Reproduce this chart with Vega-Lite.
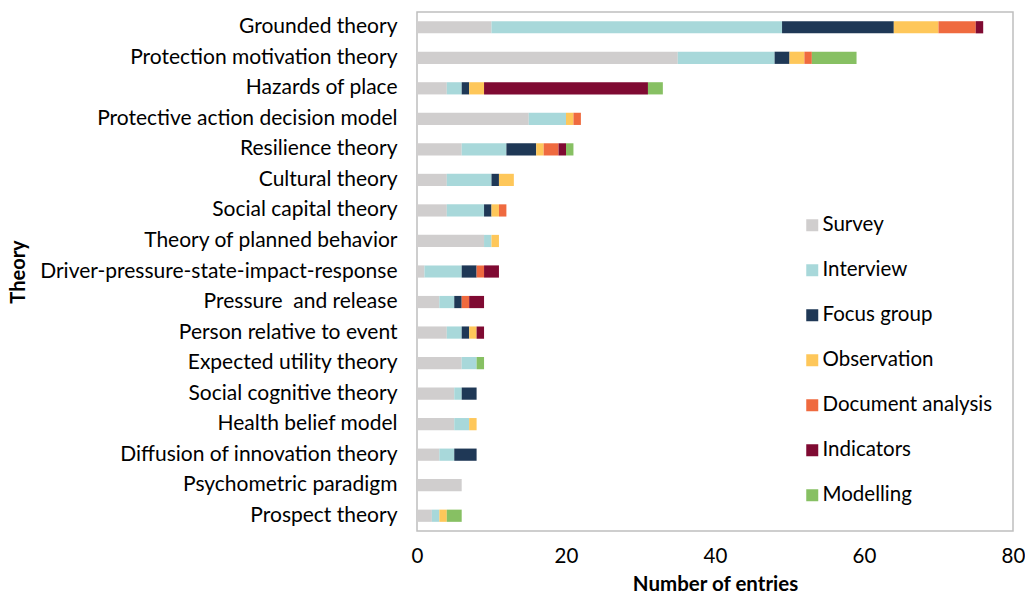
{
  "$schema": "https://vega.github.io/schema/vega-lite/v6.json",
  "autosize": {"type": "none"},
  "width": 596,
  "height": 519,
  "padding": {"left": 417, "top": 12, "right": 12, "bottom": 63},
  "background": "white",
  "config": {
    "font": "Lato",
    "view": {"stroke": "#BFBFBF", "strokeWidth": 1.5},
    "axis": {"labelFont": "Lato", "titleFont": "Lato", "labelColor": "#000", "titleColor": "#000", "domain": false, "ticks": false, "grid": false}
  },
  "data": {"values": [
    {"theory": "Grounded theory", "method": "Survey", "n": 10},
    {"theory": "Grounded theory", "method": "Interview", "n": 39},
    {"theory": "Grounded theory", "method": "Focus group", "n": 15},
    {"theory": "Grounded theory", "method": "Observation", "n": 6},
    {"theory": "Grounded theory", "method": "Document analysis", "n": 5},
    {"theory": "Grounded theory", "method": "Indicators", "n": 1},
    {"theory": "Protection motivation theory", "method": "Survey", "n": 35},
    {"theory": "Protection motivation theory", "method": "Interview", "n": 13},
    {"theory": "Protection motivation theory", "method": "Focus group", "n": 2},
    {"theory": "Protection motivation theory", "method": "Observation", "n": 2},
    {"theory": "Protection motivation theory", "method": "Document analysis", "n": 1},
    {"theory": "Protection motivation theory", "method": "Modelling", "n": 6},
    {"theory": "Hazards of place", "method": "Survey", "n": 4},
    {"theory": "Hazards of place", "method": "Interview", "n": 2},
    {"theory": "Hazards of place", "method": "Focus group", "n": 1},
    {"theory": "Hazards of place", "method": "Observation", "n": 2},
    {"theory": "Hazards of place", "method": "Indicators", "n": 22},
    {"theory": "Hazards of place", "method": "Modelling", "n": 2},
    {"theory": "Protective action decision model", "method": "Survey", "n": 15},
    {"theory": "Protective action decision model", "method": "Interview", "n": 5},
    {"theory": "Protective action decision model", "method": "Observation", "n": 1},
    {"theory": "Protective action decision model", "method": "Document analysis", "n": 1},
    {"theory": "Resilience theory", "method": "Survey", "n": 6},
    {"theory": "Resilience theory", "method": "Interview", "n": 6},
    {"theory": "Resilience theory", "method": "Focus group", "n": 4},
    {"theory": "Resilience theory", "method": "Observation", "n": 1},
    {"theory": "Resilience theory", "method": "Document analysis", "n": 2},
    {"theory": "Resilience theory", "method": "Indicators", "n": 1},
    {"theory": "Resilience theory", "method": "Modelling", "n": 1},
    {"theory": "Cultural theory", "method": "Survey", "n": 4},
    {"theory": "Cultural theory", "method": "Interview", "n": 6},
    {"theory": "Cultural theory", "method": "Focus group", "n": 1},
    {"theory": "Cultural theory", "method": "Observation", "n": 2},
    {"theory": "Social capital theory", "method": "Survey", "n": 4},
    {"theory": "Social capital theory", "method": "Interview", "n": 5},
    {"theory": "Social capital theory", "method": "Focus group", "n": 1},
    {"theory": "Social capital theory", "method": "Observation", "n": 1},
    {"theory": "Social capital theory", "method": "Document analysis", "n": 1},
    {"theory": "Theory of planned behavior", "method": "Survey", "n": 9},
    {"theory": "Theory of planned behavior", "method": "Interview", "n": 1},
    {"theory": "Theory of planned behavior", "method": "Observation", "n": 1},
    {"theory": "Driver-pressure-state-impact-response", "method": "Survey", "n": 1},
    {"theory": "Driver-pressure-state-impact-response", "method": "Interview", "n": 5},
    {"theory": "Driver-pressure-state-impact-response", "method": "Focus group", "n": 2},
    {"theory": "Driver-pressure-state-impact-response", "method": "Document analysis", "n": 1},
    {"theory": "Driver-pressure-state-impact-response", "method": "Indicators", "n": 2},
    {"theory": "Pressure\u00a0 and release", "method": "Survey", "n": 3},
    {"theory": "Pressure\u00a0 and release", "method": "Interview", "n": 2},
    {"theory": "Pressure\u00a0 and release", "method": "Focus group", "n": 1},
    {"theory": "Pressure\u00a0 and release", "method": "Document analysis", "n": 1},
    {"theory": "Pressure\u00a0 and release", "method": "Indicators", "n": 2},
    {"theory": "Person relative to event", "method": "Survey", "n": 4},
    {"theory": "Person relative to event", "method": "Interview", "n": 2},
    {"theory": "Person relative to event", "method": "Focus group", "n": 1},
    {"theory": "Person relative to event", "method": "Observation", "n": 1},
    {"theory": "Person relative to event", "method": "Indicators", "n": 1},
    {"theory": "Expected utility theory", "method": "Survey", "n": 6},
    {"theory": "Expected utility theory", "method": "Interview", "n": 2},
    {"theory": "Expected utility theory", "method": "Modelling", "n": 1},
    {"theory": "Social cognitive theory", "method": "Survey", "n": 5},
    {"theory": "Social cognitive theory", "method": "Interview", "n": 1},
    {"theory": "Social cognitive theory", "method": "Focus group", "n": 2},
    {"theory": "Health belief model", "method": "Survey", "n": 5},
    {"theory": "Health belief model", "method": "Interview", "n": 2},
    {"theory": "Health belief model", "method": "Observation", "n": 1},
    {"theory": "Diffusion of innovation theory", "method": "Survey", "n": 3},
    {"theory": "Diffusion of innovation theory", "method": "Interview", "n": 2},
    {"theory": "Diffusion of innovation theory", "method": "Focus group", "n": 3},
    {"theory": "Psychometric paradigm", "method": "Survey", "n": 6},
    {"theory": "Prospect theory", "method": "Survey", "n": 2},
    {"theory": "Prospect theory", "method": "Interview", "n": 1},
    {"theory": "Prospect theory", "method": "Observation", "n": 1},
    {"theory": "Prospect theory", "method": "Modelling", "n": 2}
  ]},
  "mark": {"type": "bar"},
  "encoding": {
    "y": {
      "field": "theory", "type": "nominal",
      "sort": ["Grounded theory", "Protection motivation theory", "Hazards of place", "Protective action decision model", "Resilience theory", "Cultural theory", "Social capital theory", "Theory of planned behavior", "Driver-pressure-state-impact-response", "Pressure\u00a0 and release", "Person relative to event", "Expected utility theory", "Social cognitive theory", "Health belief model", "Diffusion of innovation theory", "Psychometric paradigm", "Prospect theory"],
      "scale": {"paddingInner": 0.6, "paddingOuter": 0.3},
      "axis": {"title": "Theory", "titleFontSize": 20, "titleFontWeight": "bold", "labelFontSize": 21, "labelPadding": 20, "titleX": -399, "titleY": 259.5, "titleAlign": "center", "titleBaseline": "middle", "titleAngle": -90, "labelLimit": 500}
    },
    "x": {
      "field": "n", "type": "quantitative", "aggregate": "sum", "stack": "zero",
      "scale": {"domain": [0, 80], "nice": false},
      "axis": {"title": "Number of entries", "titleFontSize": 20.5, "titleFontWeight": "bold", "labelFontSize": 20.5, "labelPadding": 15, "values": [0, 20, 40, 60, 80], "titlePadding": 8, "labelFlush": false}
    },
    "color": {
      "field": "method", "type": "nominal",
      "scale": {
        "domain": ["Survey", "Interview", "Focus group", "Observation", "Document analysis", "Indicators", "Modelling"],
        "range": ["#D0CECE", "#A8D8DA", "#1F3856", "#FEC75A", "#EF6A3F", "#7F0A32", "#87C063"]
      },
      "legend": {
        "title": null, "orient": "none", "legendX": 385, "legendY": 203,
        "symbolType": "square", "symbolSize": 144, "symbolStrokeWidth": 0,
        "labelFontSize": 20.5, "labelFont": "Lato", "labelColor": "#000", "labelLimit": 400, "rowPadding": 24, "labelOffset": 0
      }
    },
    "order": {"field": "ord", "type": "quantitative"}
  },
  "transform": [
    {"lookup": "method", "from": {"data": {"values": [
      {"method": "Survey", "ord": 1}, {"method": "Interview", "ord": 2}, {"method": "Focus group", "ord": 3}, {"method": "Observation", "ord": 4}, {"method": "Document analysis", "ord": 5}, {"method": "Indicators", "ord": 6}, {"method": "Modelling", "ord": 7}
    ]}, "key": "method", "fields": ["ord"]}}
  ]
}
